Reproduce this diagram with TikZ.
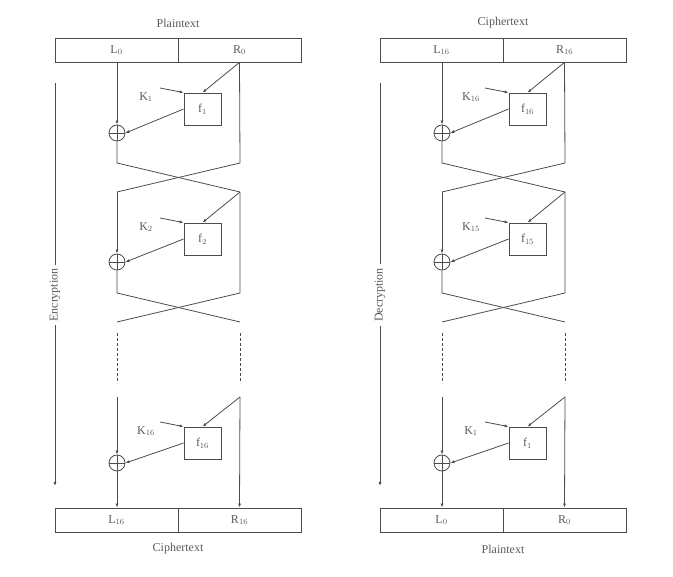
\documentclass[tikz,border=0pt]{standalone}
\usepackage{fontspec}
\setmainfont{Liberation Serif}
\usetikzlibrary{arrows.meta}
\begin{document}
\begin{tikzpicture}[x=1pt,y=-1pt,line width=0.8pt,
  every node/.style={text=black!65,font=\fontsize{12}{14}\selectfont},
  ln/.style={draw=black!70},
  arr/.style={ln,-{Latex[length=4pt,width=3pt]}},
  cell/.style={draw=black!70,minimum width=123pt,minimum height=24pt,inner sep=0pt,anchor=center},
  fbox/.style={draw=black!70,minimum width=37pt,minimum height=32pt,inner sep=0pt},
  xor/.style={draw=black!70,circle,minimum size=16pt,inner sep=0pt,
    path picture={\draw[black!70] (path picture bounding box.north) -- (path picture bounding box.south)
      (path picture bounding box.west) -- (path picture bounding box.east);}}]
\useasboundingbox (0,0) rectangle (673,577);
\foreach \p/\dx/\top/\bot/\La/\Ra/\Lb/\Rb/\ka/\kb/\kc/\dir in {
 A/0/Plaintext/Ciphertext/L$_0$/R$_0$/L$_{16}$/R$_{16}$/1/2/16/Encryption,
 B/325/Ciphertext/Plaintext/L$_{16}$/R$_{16}$/L$_0$/R$_0$/16/15/1/Decryption}{
\begin{scope}[xshift=\dx]
\node (top\p) at (178,23) {\top};
\node[cell] (tl\p) at (116.5,50) {\La};
\node[cell] (tr\p) at (239.5,50) {\Ra};
\node[cell] (bl\p) at (116.5,520) {\Lb};
\node[cell] (br\p) at (239.5,520) {\Rb};
\node (bot\p) at (178,549) {\bot};
% round 1
\node[fbox] (fa\p) at (202.5,109) {f$_{\ka}$};
\node[xor] (xa\p) at (117,133) {};
\node (ka\p) at (146,97) {K$_{\ka}$};
\coordinate (kas\p) at (160,88);
\draw[arr] (kas\p) -- (fa\p.north west);
\draw[arr] (tr\p.south) -- (fa\p.north);
\draw[arr] (tl\p.south -| xa\p) -- (xa\p.north);
\draw[arr] (fa\p.west) -- (xa\p.east);
\coordinate (a1\p) at (117,163); \coordinate (a2\p) at (240,163);
\coordinate (b1\p) at (117,192); \coordinate (b2\p) at (240,192);
\draw[ln] (xa\p.south) -- (a1\p) -- (b2\p);
\draw[ln] (tr\p.south) -- (a2\p) -- (b1\p);
% round 2
\node[fbox] (fb\p) at (202.5,239) {f$_{\kb}$};
\node[xor] (xb\p) at (117,262) {};
\node (kb\p) at (146,227) {K$_{\kb}$};
\coordinate (kbs\p) at (160,218);
\draw[arr] (kbs\p) -- (fb\p.north west);
\draw[arr] (b2\p) -- (fb\p.north);
\draw[arr] (b1\p) -- (xb\p.north);
\draw[arr] (fb\p.west) -- (xb\p.east);
\coordinate (c1\p) at (117,293); \coordinate (c2\p) at (240,293);
\coordinate (d1\p) at (117,322); \coordinate (d2\p) at (240,322);
\draw[ln] (xb\p.south) -- (c1\p) -- (d2\p);
\draw[ln] (b2\p) -- (c2\p) -- (d1\p);
% dots
\coordinate (e1\p) at (117,333); \coordinate (e2\p) at (240,333);
\coordinate (g1\p) at (117,383); \coordinate (g2\p) at (240,383);
\draw[ln,dashed,dash pattern=on 3pt off 2pt] (e1\p) -- (g1\p) (e2\p) -- (g2\p);
% round 16
\coordinate (h1\p) at (117,397); \coordinate (h2\p) at (240,397);
\node[fbox] (fc\p) at (202.5,443) {f$_{\kc}$};
\node[xor] (xc\p) at (117,463) {};
\node (kc\p) at (146,431) {K$_{\kc}$};
\coordinate (kcs\p) at (160,422);
\draw[arr] (kcs\p) -- (fc\p.north west);
\draw[arr] (h2\p) -- (fc\p.north);
\draw[arr] (h1\p) -- (xc\p.north);
\draw[arr] (fc\p.west) -- (xc\p.east);
\draw[arr] (xc\p.south) -- (bl\p.north -| xc\p);
\draw[arr] (h2\p) -- (br\p.north);
% side arrow
\node[rotate=90] (dir\p) at (55,295) {\dir};
\coordinate (s1\p) at (55,83); \coordinate (s2\p) at (55,486);
\draw[ln] (s1\p) -- (dir\p.east);
\draw[arr] (dir\p.west) -- (s2\p);
\end{scope}}
\end{tikzpicture}
\end{document}
